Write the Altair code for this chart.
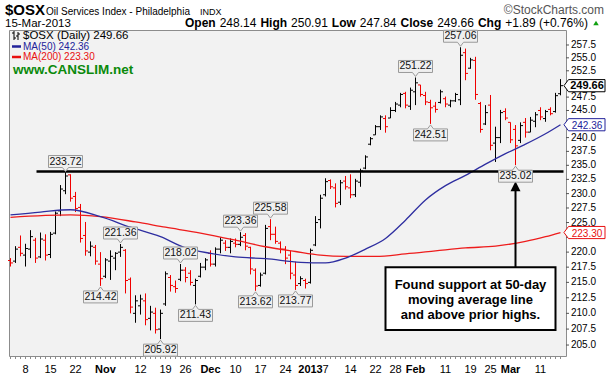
import altair as alt
import pandas as pd

# ---------------- data (trading-day index, Oct 3 2012 = -3 ... Mar 15 2013 = 107) -------------
day_index = list(range(-3, 108))
opens = [
    218.6, 218.5, 220.8,
    219.5, 220.5, 222.0, 219.2, 222.0, 219.6, 223.2, 227.0, 230.5, 233.3,
    229.5, 227.6, 222.8, 220.0, 220.8, 218.0, 216.0, 218.5, 219.0, 220.0,
    220.3, 215.5, 210.0, 211.2, 212.0, 209.2, 210.0, 207.5, 211.5, 215.8,
    214.3, 215.5, 217.0, 216.5, 214.5, 216.0, 217.5, 219.8, 218.0, 220.5,
    221.5, 220.8, 221.5, 221.3, 222.8, 220.8, 217.0, 214.5, 216.5, 224.3,
    223.0, 221.5, 220.5, 219.5, 216.2, 214.8, 215.3, 215.0, 221.2, 225.5,
    229.8, 232.3, 231.0, 228.5, 232.2, 231.0, 229.8, 232.0, 234.5, 238.8,
    240.5, 242.0, 243.5, 243.6, 245.0, 246.0, 248.2, 245.8, 248.5, 249.8,
    247.8, 246.5, 245.8, 246.5, 247.2, 246.0, 246.8, 247.0, 256.0, 253.0,
    254.5, 246.3, 242.5, 246.0, 239.0, 240.0, 244.8, 242.8, 241.5, 239.5,
    242.8, 241.0, 243.0, 245.0, 243.5, 245.2, 244.8, 248.14,
]
highs = [
    219.0, 221.0, 222.8,
    221.4, 223.7, 222.4, 223.3, 223.0, 223.4, 226.9, 231.5, 233.72, 233.4,
    230.3, 228.2, 225.1, 221.8, 221.2, 220.0, 219.0, 220.3, 220.0, 221.36,
    220.5, 215.8, 212.9, 213.0, 213.2, 211.2, 210.9, 210.6, 216.8, 216.2,
    215.3, 218.02, 217.5, 217.0, 215.6, 218.2, 219.0, 220.3, 220.8, 222.5,
    222.0, 222.3, 222.3, 223.36, 223.2, 220.9, 217.3, 216.6, 224.6, 225.58,
    224.3, 221.8, 221.0, 220.2, 218.4, 216.0, 215.6, 220.6, 226.1, 229.8,
    232.7, 232.5, 231.8, 232.4, 233.1, 233.4, 232.6, 234.4, 236.8, 240.1,
    242.3, 244.1, 244.1, 245.6, 246.6, 248.3, 248.5, 249.3, 251.22, 249.8,
    248.5, 247.0, 246.6, 248.9, 247.6, 247.0, 248.3, 257.06, 256.8, 255.0,
    255.2, 246.6, 246.0, 247.9, 242.0, 245.1, 245.4, 242.8, 242.3, 242.8,
    243.6, 243.8, 244.7, 245.6, 245.1, 245.6, 248.3, 250.91,
]
lows = [
    217.6, 218.2, 219.3,
    217.6, 219.0, 218.2, 219.0, 218.6, 219.0, 223.0, 226.1, 229.9, 228.6,
    226.8, 221.6, 219.4, 219.3, 217.9, 214.42, 215.7, 215.4, 217.0, 219.2,
    213.2, 210.0, 208.5, 209.8, 208.1, 207.3, 206.8, 205.92, 211.2, 213.5,
    213.3, 215.2, 215.0, 214.5, 211.43, 215.8, 217.0, 217.6, 217.6, 219.8,
    220.2, 219.8, 220.8, 221.0, 220.3, 216.3, 213.62, 214.3, 216.3, 222.0,
    221.4, 219.8, 218.0, 215.5, 213.77, 214.4, 214.0, 214.8, 221.0, 224.0,
    229.5, 230.8, 227.6, 228.0, 230.7, 229.2, 229.4, 231.2, 234.3, 238.6,
    240.5, 241.4, 240.9, 243.6, 244.7, 245.6, 245.4, 245.1, 246.0, 247.6,
    246.0, 242.51, 244.6, 246.3, 245.6, 245.6, 246.6, 246.0, 250.7, 252.9,
    247.0, 240.9, 242.3, 237.7, 235.6, 239.0, 243.2, 239.0, 235.02, 239.0,
    240.0, 241.0, 241.9, 243.2, 242.9, 244.1, 244.6, 247.84,
]
closes = [
    218.2, 220.5, 219.8,
    220.6, 222.6, 219.0, 222.2, 219.5, 223.0, 226.6, 230.8, 233.1, 229.2,
    227.4, 222.3, 220.2, 221.0, 218.5, 215.6, 218.7, 219.3, 219.8, 220.8,
    215.3, 211.0, 212.0, 212.3, 209.0, 210.2, 207.4, 210.0, 216.4, 214.5,
    214.0, 217.0, 215.8, 215.0, 215.3, 217.5, 218.7, 218.0, 220.5, 222.0,
    220.8, 221.8, 221.3, 222.5, 221.0, 217.2, 214.4, 216.2, 224.0, 223.0,
    221.8, 220.5, 219.0, 216.5, 214.5, 215.6, 214.8, 220.3, 225.0, 229.2,
    232.1, 231.2, 228.3, 231.9, 231.2, 229.8, 232.2, 234.0, 236.5, 239.8,
    242.0, 243.8, 242.0, 245.0, 246.2, 248.0, 246.0, 248.8, 250.2, 248.0,
    246.6, 245.5, 245.2, 248.5, 246.2, 246.8, 248.0, 255.5, 252.0, 254.6,
    248.0, 241.5, 244.6, 238.6, 240.0, 244.6, 243.6, 239.6, 238.5, 242.2,
    241.0, 243.2, 244.2, 243.8, 244.8, 244.4, 247.77, 249.66,
]

ma50_idx = [-3, 3, 9, 15, 21, 27, 32, 37, 42, 48, 55, 60, 64, 68, 72, 76, 80, 84, 88, 92, 96, 100, 104, 107]
ma50_val = [226.3, 226.8, 227.2, 226.0, 224.2, 222.6, 220.7, 219.8, 219.2, 218.9, 218.3, 218.2, 219.0,
            220.5, 222.3, 225.4, 228.9, 231.4, 233.2, 235.2, 237.1, 238.8, 240.7, 242.36]
ma200_idx = [-3, 9, 15, 22, 28, 35, 42, 48, 54, 59, 64, 70, 76, 82, 88, 94, 100, 104, 107]
ma200_val = [225.9, 226.3, 226.0, 225.1, 224.2, 223.2, 222.0, 220.9, 220.1, 219.5, 219.3, 219.3,
             219.7, 220.2, 220.7, 221.0, 221.8, 222.6, 223.30]

tick_idx = [0, 5, 10, 16, 23, 28, 32, 37, 42, 47, 52, 57, 60, 65, 70, 74, 78, 84, 89, 93, 97, 103]
tick_lbl = ["8", "15", "22", "Nov", "12", "19", "26", "Dec", "10", "17", "24", "2013", "7",
            "14", "22", "28", "Feb", "11", "19", "25", "Mar", "11"]
month_idx = [16, 37, 57, 78, 97]
price_ticks = [205.0, 207.5, 210.0, 212.5, 215.0, 217.5, 220.0, 222.5, 225.0, 227.5, 230.0,
               232.5, 235.0, 237.5, 240.0, 242.5, 245.0, 247.5, 250.0, 252.5, 255.0, 257.5]
# labels hidden behind the last-value tags in the reference
hidden_labels = [222.5, 242.5, 250.0]

hi_idx = [8, 19, 31, 43, 49, 78, 87]
hi_val = [233.72, 221.36, 218.02, 223.36, 225.58, 251.22, 257.06]
lo_idx = [15, 27, 34, 46, 54, 81, 98]
lo_val = [214.42, 205.92, 211.43, 213.62, 213.77, 242.51, 235.02]

support = {"x1": [2.2], "x2": [107.6], "y": [233.9]}
arrow = {"i": [98], "y1": [217.5], "y2": [230.9], "head": [231.3]}
note_box = {"x1": [72], "x2": [106], "y1": [217.5], "y2": [207.36]}
note_lines = ["Found support at 50-day", "moving average line", "and above prior highs."]
note_y = [214.57, 212.14, 209.74]
note_x = 89

tag_val = [249.66, 242.36, 223.30]
tag_col = ["#000000", "#22229a", "#e81010"]

# ---------------- chart -------------
W, H = 557, 326
FONT = "Liberation Sans, Arial, sans-serif"
RED = "#f00000"

bars = pd.DataFrame({"i": day_index, "open": opens, "high": highs, "low": lows, "close": closes})
prev = bars["close"].shift(1).fillna(bars["open"])
bars["col"] = [RED if c < p else "#000000" for c, p in zip(bars["close"], prev)]

xs = alt.Scale(domain=[-3.3, 108.1], nice=False, zero=False)
ys = alt.Scale(type="log", domain=[203.3, 260.45], nice=False, zero=False)

month_test = "indexof([" + ",".join(str(v) for v in month_idx) + "], datum.value) >= 0"

x_axis = alt.Axis(values=tick_idx, title=None, labels=False, ticks=False, domain=False, grid=True,
                  gridColor={"condition": {"test": month_test, "value": "#a8a8a8"}, "value": "#d2d2d2"})
y_axis = alt.Axis(values=price_ticks, title=None, labels=False, ticks=False, domain=False, grid=True,
                  gridColor="#d2d2d2", orient="right")

X = lambda f: alt.X(f, scale=xs, axis=None)
Y = lambda f: alt.Y(f, scale=ys, axis=None)
col = alt.Color("col:N", scale=None)

hl = alt.Chart(bars).mark_rule(strokeWidth=1).encode(
    x=alt.X("i:Q", scale=xs, axis=x_axis), y=alt.Y("low:Q", scale=ys, axis=y_axis), y2="high:Q", color=col)
op = alt.Chart(bars).transform_calculate(xo="datum.i - 0.5").mark_rule(strokeWidth=1).encode(
    x=X("xo:Q"), x2="i:Q", y=Y("open:Q"), color=col)
cl = alt.Chart(bars).transform_calculate(xc="datum.i + 0.5").mark_rule(strokeWidth=1).encode(
    x=X("i:Q"), x2="xc:Q", y=Y("close:Q"), color=col)
daytick = alt.Chart(bars).mark_rule(color="#8a8a8a").encode(
    x=X("i:Q"), y=alt.value(H), y2=alt.value(H + 3))

# axis labels drawn as text marks
xt = pd.DataFrame({"i": tick_idx, "l": tick_lbl})
xt["m"] = xt["i"].isin(month_idx)
xlab_n = alt.Chart(xt[~xt["m"]]).mark_text(baseline="top", fontSize=11, font=FONT, color="#000000").encode(
    x=X("i:Q"), y=alt.value(H + 8), text="l:N")
xlab_b = alt.Chart(xt[xt["m"]]).mark_text(baseline="top", fontSize=11, font=FONT, fontWeight="bold",
                                          color="#000000").encode(x=X("i:Q"), y=alt.value(H + 8), text="l:N")
yt = pd.DataFrame({"p": price_ticks})
yl = yt[~yt["p"].isin(hidden_labels)]
ylab = alt.Chart(yl).mark_text(align="left", baseline="middle", fontSize=10, font=FONT, color="#000000").encode(
    x=alt.value(W + 5), y=Y("p:Q"), text=alt.Text("p:Q", format=".1f"))
ytick = alt.Chart(yt).mark_rule(color="#555555").encode(x=alt.value(W), x2=alt.value(W + 3), y=Y("p:Q"))

ma50 = alt.Chart(pd.DataFrame({"i": ma50_idx, "v": ma50_val})).mark_line(
    color="#2e2ea0", strokeWidth=1.3, interpolate="monotone").encode(x=X("i:Q"), y=Y("v:Q"))
ma200 = alt.Chart(pd.DataFrame({"i": ma200_idx, "v": ma200_val})).mark_line(
    color="#ee1c1c", strokeWidth=1.3, interpolate="monotone").encode(x=X("i:Q"), y=Y("v:Q"))

sup = alt.Chart(pd.DataFrame(support)).mark_rule(color="black", strokeWidth=2.5).encode(
    x=X("x1:Q"), x2="x2:Q", y=Y("y:Q"))
adf = pd.DataFrame(arrow)
shaft = alt.Chart(adf).mark_rule(color="black", strokeWidth=2).encode(x=X("i:Q"), y=Y("y1:Q"), y2="y2:Q")
head = alt.Chart(adf).mark_point(shape="M0,-1L1,1L-1,1Z", size=100, filled=True, color="black",
                                 opacity=1).encode(x=X("i:Q"), y=Y("head:Q"))
box = alt.Chart(pd.DataFrame(note_box)).mark_rect(fill="white", stroke="black", strokeWidth=2).encode(
    x=X("x1:Q"), x2="x2:Q", y=Y("y1:Q"), y2="y2:Q")
note = alt.Chart(pd.DataFrame({"t": note_lines, "y": note_y, "x": [note_x] * 3})).mark_text(
    fontSize=13, fontWeight="bold", font=FONT, baseline="middle", color="black").encode(
    x=X("x:Q"), y=Y("y:Q"), text="t:N")

HI_PATH = "M-1,-1L1,-1L1,-0.294L0.18,-0.294L0,-0.06L-0.18,-0.294L-1,-0.294Z"
LO_PATH = "M-1,1L1,1L1,0.294L0.18,0.294L0,0.06L-0.18,0.294L-1,0.294Z"
hidf = pd.DataFrame({"i": hi_idx, "v": hi_val})
lodf = pd.DataFrame({"i": lo_idx, "v": lo_val})
def callouts(df, path, dy):
    b = alt.Chart(df).mark_point(shape=path, size=34 * 34, filled=True, fill="#efefef", stroke="#9a9a9a",
                                 strokeWidth=1, opacity=1, fillOpacity=1).encode(x=X("i:Q"), y=Y("v:Q"))
    t = alt.Chart(df).mark_text(dy=dy, fontSize=10.5, font=FONT, color="#111111", baseline="middle").encode(
        x=X("i:Q"), y=Y("v:Q"), text=alt.Text("v:Q", format=".2f"))
    return [b, t]

TAG_PATH = "M-1.16,0L-0.92,-0.32L1,-0.32L1,0.32L-0.92,0.32Z"
tagdf = pd.DataFrame({"v": tag_val, "c": tag_col})
tags = alt.Chart(tagdf).mark_point(shape=TAG_PATH, size=38 * 38, filled=True, fill="white",
                                   strokeWidth=1, opacity=1, fillOpacity=1).encode(
    x=alt.value(W + 20), y=Y("v:Q"), stroke=alt.Color("c:N", scale=None))
tag_t1 = alt.Chart(tagdf.iloc[:1]).mark_text(fontSize=11, fontWeight="bold", font=FONT, baseline="middle").encode(
    x=alt.value(W + 21), y=Y("v:Q"), text=alt.Text("v:Q", format=".2f"), color=alt.Color("c:N", scale=None))
tag_t2 = alt.Chart(tagdf.iloc[1:]).mark_text(fontSize=10, dy=1.5, font=FONT, baseline="middle").encode(
    x=alt.value(W + 21), y=Y("v:Q"), text=alt.Text("v:Q", format=".2f"), color=alt.Color("c:N", scale=None))

def txt(s, x, y, size=12, weight="normal", color="#000000", align="left", font=FONT, baseline="alphabetic"):
    return alt.Chart(pd.DataFrame({"t": [s]})).mark_text(
        align=align, baseline=baseline, fontSize=size, fontWeight=weight, color=color, font=font).encode(
        x=alt.value(x), y=alt.value(y), text="t:N")

one = pd.DataFrame({"k": [0]})
def seg(x1, y1, x2, y2, color="black", w=1):
    return alt.Chart(one).mark_rule(color=color, strokeWidth=w).encode(
        x=alt.value(x1), y=alt.value(y1), x2=alt.value(x2), y2=alt.value(y2))

header = [
    txt("$OSX", -4, -15, size=15, weight="bold"),
    txt("Oil Services Index - Philadelphia", 37, -15, size=10),
    txt("INDX", 191, -15, size=9),
    txt("\u00a9StockCharts.com", 595, -16, size=12, color="#555555", align="right"),
    txt("15-Mar-2013", -4, -3, size=11.5),
    txt("Open", 176, -3, size=12, weight="bold"),
    txt("248.14", 210.7, -3),
    txt("High", 251.4, -3, size=12, weight="bold"),
    txt("250.91", 282.1, -3),
    txt("Low", 322.8, -3, size=12, weight="bold"),
    txt("247.84", 350.8, -3),
    txt("Close", 391.5, -3, size=12, weight="bold"),
    txt("249.66", 428.2, -3),
    txt("Chg", 468.9, -3, size=12, weight="bold"),
    txt("+1.89 (+0.76%)", 496.2, -3),
    alt.Chart(one).mark_point(shape="triangle-up", size=30, filled=True, color="#10a010", opacity=1).encode(
        x=alt.value(587), y=alt.value(-7)),
]
legend = [
    seg(5, 1, 5, 10), seg(3, 3, 5, 3), seg(5, 8, 7, 8),
    seg(9, 2, 9, 10), seg(7, 6, 9, 6), seg(9, 4, 11, 4),
    txt("$OSX (Daily) 249.66", 14, 5.5, size=11.5, baseline="middle"),
    seg(3, 16.5, 12, 16.5, color="#22229a", w=2.5),
    txt("MA(50) 242.36", 14, 16.5, size=10, color="#22229a", baseline="middle"),
    seg(3, 27, 12, 27, color="#e81010", w=2.5),
    txt("MA(200) 223.30", 14, 27, size=10, color="#e81010", baseline="middle"),
    txt("www.CANSLIM.net", 4, 40, size=13.5, weight="bold", color="#0b8a0b", baseline="middle"),
]

layers = ([hl, op, cl, daytick, ma200, ma50, sup, shaft, head, box, note]
          + callouts(hidf, HI_PATH, -11) + callouts(lodf, LO_PATH, 11)
          + [xlab_n, xlab_b, ytick, ylab, tags, tag_t1, tag_t2] + header + legend)

chart = alt.layer(*layers).properties(
    width=W, height=H,
    padding={"left": 9, "top": 30, "right": 44, "bottom": 19},
    autosize=alt.AutoSizeParams(type="none"),
    background="white",
).configure_view(stroke="#8c8c8c", fill="#f2f2f2", strokeWidth=1)

chart.save("out.html", embed_options={"renderer": "svg", "actions": False})
